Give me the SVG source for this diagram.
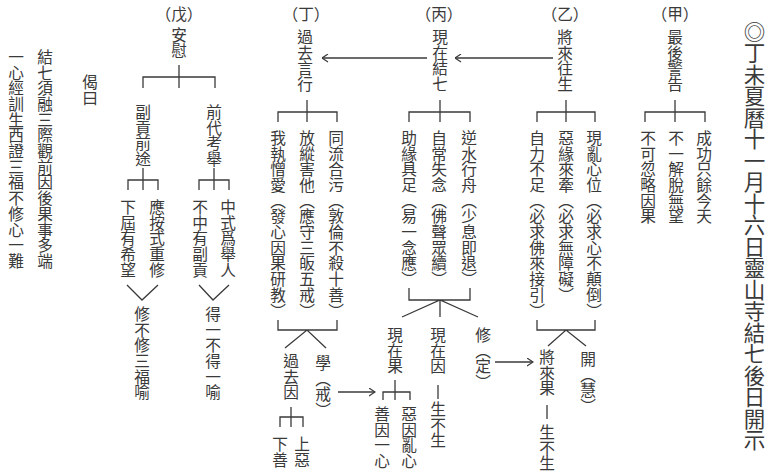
<svg xmlns="http://www.w3.org/2000/svg" width="770" height="473" viewBox="0 0 770 473">
<style>
.v{writing-mode:vertical-rl;font-family:"Noto Sans CJK TC","Noto Sans CJK SC",sans-serif;font-size:15.7px;fill:#3a3a3a}
.h{font-family:"Noto Sans CJK TC","Noto Sans CJK SC",sans-serif;font-size:15.7px;fill:#3a3a3a;text-anchor:middle}
.t{writing-mode:vertical-rl;font-family:"Noto Sans CJK TC","Noto Sans CJK SC",sans-serif;font-size:21.5px;fill:#3a3a3a}
.ln{stroke:#3a3a3a;stroke-width:1.3;fill:none}
</style>
<defs>
<marker id="ah" viewBox="0 0 7 9" refX="6.5" refY="4.5" markerWidth="7" markerHeight="9" orient="auto" markerUnits="userSpaceOnUse">
<path d="M0.5,0.5 L6.5,4.5 L0.5,8.5" fill="none" stroke="#3a3a3a" stroke-width="1.2"/>
</marker>
</defs>
<rect width="770" height="473" fill="#fff"/>

<g id="title"><text class="t" x="754.5" y="21">◎丁未夏曆十一月十六日靈山寺結七後日開示</text></g>

<g id="jia">
<text class="h" x="675" y="20">（甲）</text>
<text class="v" x="675" y="29">最後警告</text>
</g>
<g id="jia-1"><text class="v" x="704" y="130">成功只餘今天</text></g>
<g id="jia-2"><text class="v" x="676" y="130">不一解脫無望</text></g>
<g id="jia-3"><text class="v" x="648" y="130">不可忽略因果</text></g>

<g id="yi">
<text class="h" x="565" y="20">（乙）</text>
<text class="v" x="565" y="29">將來往生</text>
</g>
<g id="yi-1"><text class="v" x="594" y="130">現亂心位（必求心不顛倒）</text></g>
<g id="yi-2"><text class="v" x="566" y="130">惡緣來牽（必求無障礙）</text></g>
<g id="yi-3"><text class="v" x="537" y="130">自力不足（必求佛來接引）</text></g>
<g id="yi-future">
<text class="v" x="547" y="349">將來果</text>
<line class="ln" x1="547" y1="405" x2="547" y2="419"/>
<text class="v" x="547" y="424">生不生</text>
</g>
<g id="yi-open"><text class="v" x="588" y="351">開（慧）</text></g>

<g id="bing">
<text class="h" x="439" y="20">（丙）</text>
<text class="v" x="440" y="29">現在結七</text>
</g>
<g id="bing-1"><text class="v" x="469" y="130">逆水行舟（少息即退）</text></g>
<g id="bing-2"><text class="v" x="439" y="130">自常失念（佛聲眾續）</text></g>
<g id="bing-3"><text class="v" x="409" y="130">助緣具足（易一念應）</text></g>
<g id="bing-result"><text class="v" x="395" y="327">現在果</text></g>
<g id="bing-cause">
<text class="v" x="438" y="327">現在因</text>
<line class="ln" x1="438" y1="385" x2="438" y2="399"/>
<text class="v" x="438" y="401">生不生</text>
</g>
<g id="bing-xiu"><text class="v" x="483" y="327">修（定）</text></g>
<g id="bing-good"><text class="v" x="382" y="406">善因一心</text></g>
<g id="bing-bad"><text class="v" x="409" y="406">惡因亂心</text></g>

<g id="ding">
<text class="h" x="306" y="20">（丁）</text>
<text class="v" x="305" y="29">過去言行</text>
</g>
<g id="ding-1"><text class="v" x="336" y="130">同流合污（敦倫不殺十善）</text></g>
<g id="ding-2"><text class="v" x="307" y="130">放縱害他（應守三皈五戒）</text></g>
<g id="ding-3"><text class="v" x="278" y="130">我執憎愛（發心因果研教）</text></g>
<g id="ding-cause"><text class="v" x="291" y="353">過去因</text></g>
<g id="ding-xue"><text class="v" x="323" y="355">學（戒）</text></g>
<g id="ding-up"><text class="v" x="302" y="436">上惡</text></g>
<g id="ding-down"><text class="v" x="280" y="436">下善</text></g>

<g id="wu">
<text class="h" x="179" y="20">（戊）</text>
<text class="v" x="179" y="27">安慰</text>
</g>
<g id="wu-1"><text class="v" x="214" y="104">前代考舉</text></g>
<g id="wu-2"><text class="v" x="143" y="104">副貢前途</text></g>
<g id="wu-1a"><text class="v" x="228" y="199">中式爲舉人</text></g>
<g id="wu-1b"><text class="v" x="200" y="199">不中有副貢</text></g>
<g id="wu-1c"><text class="v" x="213" y="306">得一不得一喻</text></g>
<g id="wu-2a"><text class="v" x="157" y="199">應按式重修</text></g>
<g id="wu-2b"><text class="v" x="128" y="199">下屆有希望</text></g>
<g id="wu-2c"><text class="v" x="142" y="306">修不修三福喻</text></g>

<g id="verse">
<text class="v" x="90" y="74">偈曰</text>
<text class="v" x="45" y="49">結七須融三際觀前因後果事多端</text>
<text class="v" x="16" y="49">一心經訓生西證三福不修心一難</text>
</g>

<g id="connectors">
<path class="ln" d="M675,100 V122 M645,122 V112 H705 V122"/>
<path class="ln" d="M566,100 V122 M537,122 V112 H595 V122"/>
<path class="ln" d="M440,100 V122 M409,122 V112 H470 V122"/>
<path class="ln" d="M307,100 V122 M278,122 V112 H337 V122"/>
<path class="ln" d="M179,65 V88 M143,88 V77 H215 V88"/>
<path class="ln" d="M214,168 V190 M199,190 V180 H229 V190"/>
<path class="ln" d="M143,168 V190 M128,190 V180 H158 V190"/>
<path class="ln" d="M199,285 L213,300 L229,285"/>
<path class="ln" d="M127,285 L142,300 L158,285"/>
<path class="ln" d="M537,320 V330 H595 V320 M548,346 L566,330 L586,346"/>
<path class="ln" d="M409,288 V300 H470 V288 M402,317 L440,300 L478,317 M440,300 V317"/>
<path class="ln" d="M278,320 V330 H337 V320 M285,348 L307,330 L326,348"/>
<path class="ln" d="M395,380 V400 M383,400 V392 H410 V400"/>
<path class="ln" d="M291,407 V427 M280,427 V417 H303 V427"/>
<line class="ln" x1="553" y1="58" x2="455" y2="58" marker-end="url(#ah)"/>
<line class="ln" x1="427" y1="58" x2="322" y2="58" marker-end="url(#ah)"/>
<line class="ln" x1="338" y1="392" x2="375" y2="392" marker-end="url(#ah)"/>
<line class="ln" x1="495" y1="362" x2="533" y2="362" marker-end="url(#ah)"/>
</g>
</svg>
